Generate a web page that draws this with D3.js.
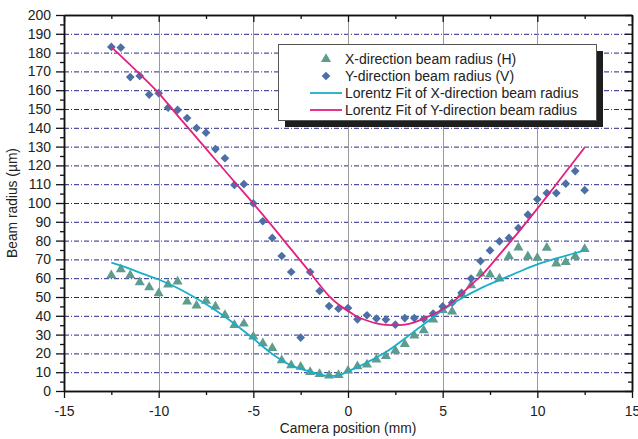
<!DOCTYPE html>
<html>
<head>
<meta charset="utf-8">
<script src="https://cdn.jsdelivr.net/npm/d3@7"></script>
<style>
  body { margin: 0; background: #fff; }
  text { font-family: "Liberation Sans", Arial, sans-serif; fill: #222; }
</style>
</head>
<body>
<svg id="chart"></svg>
<script>
const width = 638;
const height = 439;

// camera positions (mm), shared by both measured series
const positions = [-12.5, -12, -11.5, -11, -10.5, -10, -9.5, -9, -8.5, -8, -7.5, -7, -6.5, -6, -5.5, -5,
  -4.5, -4, -3.5, -3, -2.5, -2, -1.5, -1, -0.5, 0, 0.5, 1, 1.5, 2, 2.5, 3, 3.5, 4, 4.5, 5,
  5.5, 6, 6.5, 7, 7.5, 8, 8.5, 9, 9.5, 10, 10.5, 11, 11.5, 12, 12.5];

// X-direction beam radius (H), um
const radiusX = [61.5, 64.7, 61.5, 57.8, 55.2, 52, 56.6, 58.2, 47.5, 45.4, 47.9, 44.9, 40.4, 35.1, 35.8, 28.9,
  25.4, 22.8, 16.3, 13.7, 12.8, 10.1, 9, 8.2, 8.5, 10.8, 13.1, 14, 16.7, 18.6, 21.5, 25, 29.5, 32.3, 38, 43,
  42.2, 51.3, 56.2, 62.4, 61.9, 59.8, 71.6, 76.3, 71.6, 70.8, 76.1, 67.8, 68.6, 71.6, 75.5];

// Y-direction beam radius (V), um
const radiusY = [183, 182.7, 167, 167.6, 157.7, 158.4, 150.7, 149.5, 145.2, 139.9, 137.4, 128.7, 123.8, 109.6, 110, 99.8,
  90.3, 81.4, 71.8, 63.3, 28.4, 63.3, 53.2, 45.2, 43.8, 44.1, 38.1, 40.3, 38.5, 38, 35.3, 38.8, 38.8, 38.3, 41.2, 45,
  47, 52.2, 59.8, 69.1, 74.8, 79.6, 81.4, 86.7, 93.8, 102, 105.3, 105.3, 110.3, 117, 106.8];

// fit curves
const fitXPos = [-12.5, -12, -11, -10, -9, -8, -7, -6, -5, -4, -3, -2, -1.5, -1, -0.5, 0, 0.5, 1, 1.5, 2,
  3, 4, 5, 6, 7, 8, 9, 10, 11, 12, 12.5];
const fitXVal = [68.3, 66.7, 63, 59.3, 54.8, 49.2, 43, 35.8, 27.9, 19.7, 13.6, 10.3, 8.8, 8, 8.3, 10.5, 12.7, 15.2, 17.8, 20.7,
  27.9, 35.5, 42.9, 49.3, 54.6, 59, 63.3, 67.4, 70.5, 73.4, 74.8];

const fitYPos = [-12.5, -12, -11, -10, -9, -8, -7, -6, -5, -4, -3, -2, -1.5, -1, -0.5, 0, 0.5, 1, 1.5, 2, 2.5,
  3, 3.5, 4, 4.5, 5, 5.5, 6, 6.5, 7, 8, 9, 10, 11, 12, 12.5];
const fitYVal = [183, 178.3, 168.6, 158.5, 146.5, 134.8, 123, 111.3, 99.7, 87.7, 75.3, 63, 56.5, 50.5, 46, 42.5, 39.5, 37.5, 36, 35.2, 35,
  35.3, 36.5, 38.5, 40.8, 43.5, 47, 51.5, 56.5, 61, 72.5, 84.5, 97, 110, 123, 129.5];

const xMajor = [-15, -10, -5, 0, 5, 10, 15];
const xMinor = [-12.5, -7.5, -2.5, 2.5, 7.5, 12.5];
const yMajor = d3.range(0, 201, 10);
const yMinor = d3.range(5, 200, 10);

const legendLabels = [
  "X-direction beam radius (H)",
  "Y-direction beam radius (V)",
  "Lorentz Fit of X-direction beam radius",
  "Lorentz Fit of Y-direction beam radius"
];

const colX = "#5e9c8e";
const colY = "#4c6fa6";
const colFitX = "#17afc8";
const colFitY = "#e3207f";

const plotLeft = 64, plotRight = 632, plotTop = 15, plotBottom = 391;

const svg = d3.select("#chart")
    .attr("width", width)
    .attr("height", height);

const x = d3.scaleLinear().domain([-15, 15]).range([plotLeft, plotRight]);
const y = d3.scaleLinear().domain([0, 200]).range([plotBottom, plotTop]);

// grid
svg.append("g")
    .selectAll("line")
    .data(yMajor.filter(d => d > 0 && d < 200))
    .join("line")
    .attr("x1", plotLeft).attr("x2", plotRight)
    .attr("y1", d => y(d) + 0.5).attr("y2", d => y(d) + 0.5)
    .attr("stroke", "#262688")
    .attr("stroke-width", 1)
    .attr("stroke-dasharray", "5,2,1,2");

svg.append("g")
    .selectAll("line")
    .data(xMajor.filter(d => d > -15 && d < 15))
    .join("line")
    .attr("x1", d => Math.round(x(d)) + 0.5).attr("x2", d => Math.round(x(d)) + 0.5)
    .attr("y1", plotTop).attr("y2", plotBottom)
    .attr("stroke", "#9a9a9a")
    .attr("stroke-width", 1);

// axes
function styleAxis(g) {
    g.select(".domain").attr("stroke", "#111").attr("stroke-width", 1.5);
    g.selectAll(".tick line").attr("stroke", "#111").attr("stroke-width", 1.3);
    g.selectAll(".tick text")
        .attr("font-family", "Liberation Sans, Arial, sans-serif")
        .attr("font-size", 14)
        .attr("fill", "#222");
}

const plain = d => String(d);

svg.append("g")
    .attr("transform", `translate(0,${plotBottom})`)
    .call(d3.axisBottom(x).tickValues(xMajor).tickFormat(plain).tickSize(7).tickPadding(8).tickSizeOuter(0))
    .call(styleAxis);
svg.append("g")
    .attr("transform", `translate(0,${plotBottom})`)
    .call(d3.axisBottom(x).tickValues(xMinor).tickSize(4).tickFormat("").tickSizeOuter(0))
    .call(styleAxis);

svg.append("g")
    .attr("transform", `translate(0,${plotTop})`)
    .call(d3.axisBottom(x).tickValues(xMajor).tickSize(7).tickFormat("").tickSizeOuter(0))
    .call(styleAxis);
svg.append("g")
    .attr("transform", `translate(0,${plotTop})`)
    .call(d3.axisBottom(x).tickValues(xMinor).tickSize(4).tickFormat("").tickSizeOuter(0))
    .call(styleAxis);

svg.append("g")
    .attr("transform", `translate(${plotLeft},0)`)
    .call(d3.axisLeft(y).tickValues(yMajor).tickFormat(plain).tickSize(8).tickPadding(5).tickSizeOuter(0))
    .call(styleAxis);
svg.append("g")
    .attr("transform", `translate(${plotLeft},0)`)
    .call(d3.axisLeft(y).tickValues(yMinor).tickSize(4).tickFormat("").tickSizeOuter(0))
    .call(styleAxis);

svg.append("g")
    .attr("transform", `translate(${plotRight},0)`)
    .call(d3.axisLeft(y).tickValues(yMajor).tickSize(7).tickFormat("").tickSizeOuter(0))
    .call(styleAxis);
svg.append("g")
    .attr("transform", `translate(${plotRight},0)`)
    .call(d3.axisLeft(y).tickValues(yMinor).tickSize(4).tickFormat("").tickSizeOuter(0))
    .call(styleAxis);

// axis titles
svg.append("text")
    .attr("x", 348).attr("y", 433)
    .attr("text-anchor", "middle")
    .attr("font-size", 13.8)
    .text("Camera position (mm)");

svg.append("text")
    .attr("transform", `translate(17,${(plotTop + plotBottom) / 2}) rotate(-90)`)
    .attr("text-anchor", "middle")
    .attr("font-size", 13.8)
    .text("Beam radius (µm)");

// markers
const tri = d3.symbol().type(d3.symbolTriangle).size(44);
const dia = d3.symbol().type(d3.symbolSquare).size(38);

svg.append("g")
    .selectAll("path")
    .data(positions.map((p, i) => [p, radiusX[i]]))
    .join("path")
    .attr("d", tri)
    .attr("transform", d => `translate(${x(d[0])},${y(d[1])})`)
    .attr("fill", colX);

svg.append("g")
    .selectAll("path")
    .data(positions.map((p, i) => [p, radiusY[i]]))
    .join("path")
    .attr("d", dia)
    .attr("transform", d => `translate(${x(d[0])},${y(d[1])}) rotate(45)`)
    .attr("fill", colY);

// fit lines
const line = d3.line()
    .x(d => x(d[0]))
    .y(d => y(d[1]))
    .curve(d3.curveMonotoneX);

svg.append("path")
    .datum(fitXPos.map((p, i) => [p, fitXVal[i]]))
    .attr("d", line)
    .attr("fill", "none")
    .attr("stroke", colFitX)
    .attr("stroke-width", 1.8);

svg.append("path")
    .datum(fitYPos.map((p, i) => [p, fitYVal[i]]))
    .attr("d", line)
    .attr("fill", "none")
    .attr("stroke", colFitY)
    .attr("stroke-width", 1.8);

// legend
const lg = svg.append("g");
lg.append("rect")
    .attr("x", 285).attr("y", 51)
    .attr("width", 318).attr("height", 76)
    .attr("fill", "#1e1e1e");
lg.append("rect")
    .attr("x", 278.5).attr("y", 44.5)
    .attr("width", 318).attr("height", 76)
    .attr("fill", "#fff")
    .attr("stroke", "#555")
    .attr("stroke-width", 1);

const rowY = [59, 76, 93, 110];
lg.selectAll("text")
    .data(legendLabels)
    .join("text")
    .attr("x", 345)
    .attr("y", (d, i) => rowY[i])
    .attr("dy", "0.35em")
    .attr("font-size", 14)
    .text(d => d);

lg.append("path")
    .attr("d", tri)
    .attr("transform", `translate(326,${rowY[0]})`)
    .attr("fill", colX);
lg.append("path")
    .attr("d", dia)
    .attr("transform", `translate(326,${rowY[1]}) rotate(45)`)
    .attr("fill", colY);
lg.append("line")
    .attr("x1", 310).attr("x2", 342)
    .attr("y1", rowY[2]).attr("y2", rowY[2])
    .attr("stroke", colFitX).attr("stroke-width", 1.8);
lg.append("line")
    .attr("x1", 310).attr("x2", 342)
    .attr("y1", rowY[3]).attr("y2", rowY[3])
    .attr("stroke", colFitY).attr("stroke-width", 1.8);
</script>
</body>
</html>
